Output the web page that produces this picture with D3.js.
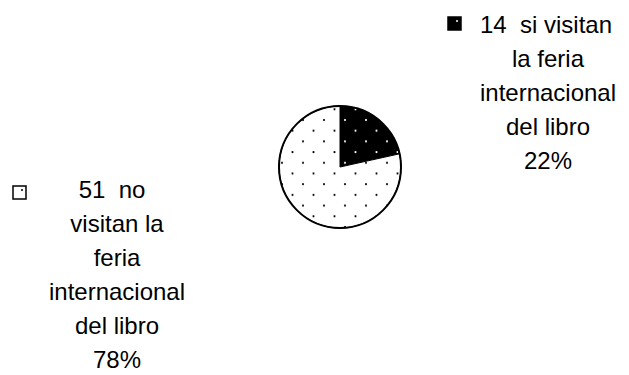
<!DOCTYPE html>
<html>
<head>
<meta charset="utf-8">
<script src="https://cdn.jsdelivr.net/npm/d3@7/dist/d3.min.js"></script>
<style>
  body { margin: 0; background: #fff; }
  text { font-family: "Liberation Sans", Arial, sans-serif; fill: #000; }
</style>
</head>
<body>
<div id="chart"></div>
<script>
const categories = ["si visitan la feria internacional del libro", "no visitan la feria internacional del libro"]
const counts = [14, 51]
const fills = ["#000", "#fff"]
const dotFills = ["#fff", "#000"]
// label lines as printed in the picture
const labelLines = [
    ["14  si visitan", "la feria", "internacional", "del libro"],
    ["51  no", "visitan la", "feria", "internacional", "del libro"]
]

const width = 629
const height = 375
const cx = 340, cy = 167, radius = 61
const fontSize = 24
const lineH = 34

const svg = d3.select("#chart")
    .append("svg")
    .attr("width", width)
    .attr("height", height)

// dot patterns
const defs = svg.append("defs")
fills.forEach((f, i) => {
    const p = defs.append("pattern")
        .attr("id", "dots" + i)
        .attr("patternUnits", "userSpaceOnUse")
        .attr("width", 21)
        .attr("height", 21.4)
        .attr("x", cx - 2)
        .attr("y", cy - 3)
    p.append("rect").attr("width", 21).attr("height", 21.4).attr("fill", f)
    p.append("circle").attr("cx", 3).attr("cy", 3).attr("r", 1.1).attr("fill", dotFills[i])
    p.append("circle").attr("cx", 13.5).attr("cy", 13.7).attr("r", 1.1).attr("fill", dotFills[i])
})

const total = d3.sum(counts)
const pie = d3.pie().sort(null).value(d => d)
const arc = d3.arc().innerRadius(0).outerRadius(radius)

const g = svg.append("g").attr("transform", `translate(${cx},${cy})`)
g.selectAll("path")
    .data(pie(counts))
    .join("path")
    .attr("d", arc)
    .attr("fill", (d, i) => `url(#dots${i})`)
    .attr("stroke", "#000")
    .attr("stroke-width", 1)

g.append("circle")
    .attr("r", radius)
    .attr("fill", "none")
    .attr("stroke", "#000")
    .attr("stroke-width", 2)

// legend blocks (baseline of first line, centre of text)
const blocks = [
    { cx: 548, base: 33, sq: [448, 17], first: 546 },
    { cx: 117, base: 198, sq: [13, 186], first: 112 }
]

blocks.forEach((b, i) => {
    const pct = Math.round(counts[i] / total * 100) + "%"
    const lines = labelLines[i].concat([pct])
    const t = svg.append("g")
    lines.forEach((ln, j) => {
        t.append("text")
            .attr("x", j === 0 ? b.first : b.cx)
            .attr("y", b.base + j * lineH)
            .attr("text-anchor", "middle")
            .attr("font-size", fontSize)
            .style("white-space", "pre")
            .text(ln)
    })
    const sq = svg.append("g").attr("transform", `translate(${b.sq[0]},${b.sq[1]})`)
    sq.append("rect")
        .attr("width", 13).attr("height", 13)
        .attr("fill", fills[i])
        .attr("stroke", "#000")
        .attr("stroke-width", 1.5)
    sq.append("circle").attr("cx", 9).attr("cy", 4).attr("r", 1).attr("fill", dotFills[i])
})
</script>
</body>
</html>
